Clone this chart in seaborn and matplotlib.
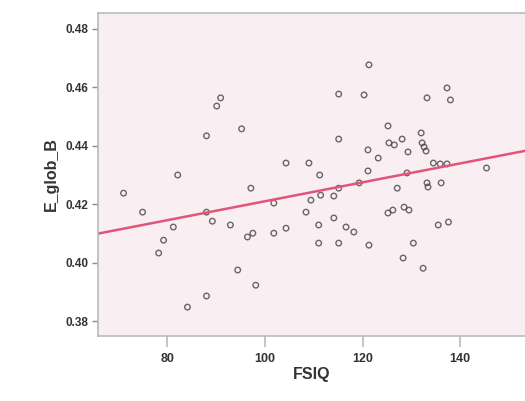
import numpy as np
import pandas as pd
import matplotlib
matplotlib.use("Agg")
import matplotlib.pyplot as plt
import seaborn as sns

# Values
fsiq = [121.3, 115.1, 120.3, 133.2, 137.3, 138.0, 90.9, 90.1, 88.0, 95.2,
        115.1, 125.2, 125.4, 126.5, 128.1, 129.3, 132.0, 132.2, 132.6, 133.0,
        121.1, 123.2, 104.3, 109.0, 111.2, 82.1, 121.1, 134.5, 135.9, 137.3,
        145.4, 129.1, 71.0, 97.1, 115.1, 119.3, 127.1, 133.2, 133.4, 136.1,
        111.4, 114.1, 74.9, 88.0, 89.2, 92.9, 96.4, 97.5, 101.8, 104.3,
        101.8, 108.4, 109.4, 111.0, 114.1, 116.6, 118.2, 111.0, 115.1, 121.3,
        125.2, 126.2, 128.5, 129.5, 135.5, 137.6, 130.4, 128.3, 132.4, 81.2,
        79.2, 78.2, 94.4, 98.1, 88.0, 84.1]
e_glob_b = [0.4677, 0.4577, 0.4574, 0.4564, 0.4598, 0.4557, 0.4564, 0.4536, 0.4434, 0.4458,
            0.4423, 0.4468, 0.4410, 0.4403, 0.4423, 0.4379, 0.4444, 0.4410, 0.4396, 0.4382,
            0.4386, 0.4358, 0.4341, 0.4341, 0.4300, 0.4300, 0.4314, 0.4341, 0.4338, 0.4338,
            0.4324, 0.4307, 0.4238, 0.4255, 0.4255, 0.4273, 0.4255, 0.4273, 0.4259, 0.4273,
            0.4231, 0.4228, 0.4173, 0.4173, 0.4142, 0.4129, 0.4088, 0.4101, 0.4101, 0.4118,
            0.4204, 0.4173, 0.4214, 0.4129, 0.4153, 0.4122, 0.4105, 0.4067, 0.4067, 0.4060,
            0.4170, 0.4180, 0.4190, 0.4180, 0.4129, 0.4139, 0.4067, 0.4016, 0.3981, 0.4122,
            0.4077, 0.4033, 0.3975, 0.3923, 0.3886, 0.3848]

x_ticks = [80, 100, 120, 140]
y_ticks = [0.38, 0.40, 0.42, 0.44, 0.46, 0.48]

df = pd.DataFrame({"FSIQ": fsiq, "E_glob_B": e_glob_b})

sns.set_style("white")
plt.rcParams['font.family'] = ['Liberation Sans', 'DejaVu Sans']

fig = plt.figure(figsize=(5.25, 4.01), dpi=100)
ax = fig.add_axes([0.187, 0.162, 0.815, 0.806])
ax.set_facecolor("#f9eef2")

# limits first so the fit line runs across the whole axis
ax.set_xlim(65.8, 153.5)
ax.set_ylim(0.3749, 0.4855)

sns.regplot(data=df, x="FSIQ", y="E_glob_B", ax=ax, ci=None, truncate=False,
            scatter_kws=dict(s=16, facecolors="none", edgecolors="#444444", linewidths=1.0),
            line_kws=dict(color="#e2557a", lw=1.8))

ax.set_xlim(65.8, 153.5)
ax.set_ylim(0.3749, 0.4855)
ax.set_xticks(x_ticks)
ax.set_yticks(y_ticks)
ax.set_yticklabels([f"{v:.2f}" for v in y_ticks])

ax.tick_params(axis="x", length=8, width=1.2, color="#bbbbbb", labelsize=9, pad=4)
ax.tick_params(axis="y", length=4, width=1, color="#888888", labelsize=8.5, pad=3)
ax.tick_params(bottom=True, left=True)
for lab in ax.get_xticklabels() + ax.get_yticklabels():
    lab.set_fontweight("bold")
    lab.set_color("#333333")

for s in ax.spines.values():
    s.set_color("#bbbbbb")
    s.set_linewidth(1.2)

ax.set_xlabel("FSIQ", fontsize=11.5, fontweight="bold", color="#333333", labelpad=2)
ax.set_ylabel("E_glob_B", fontsize=11.5, fontweight="bold", color="#333333", labelpad=5)

fig.savefig("out.png", dpi=100, facecolor="white")
